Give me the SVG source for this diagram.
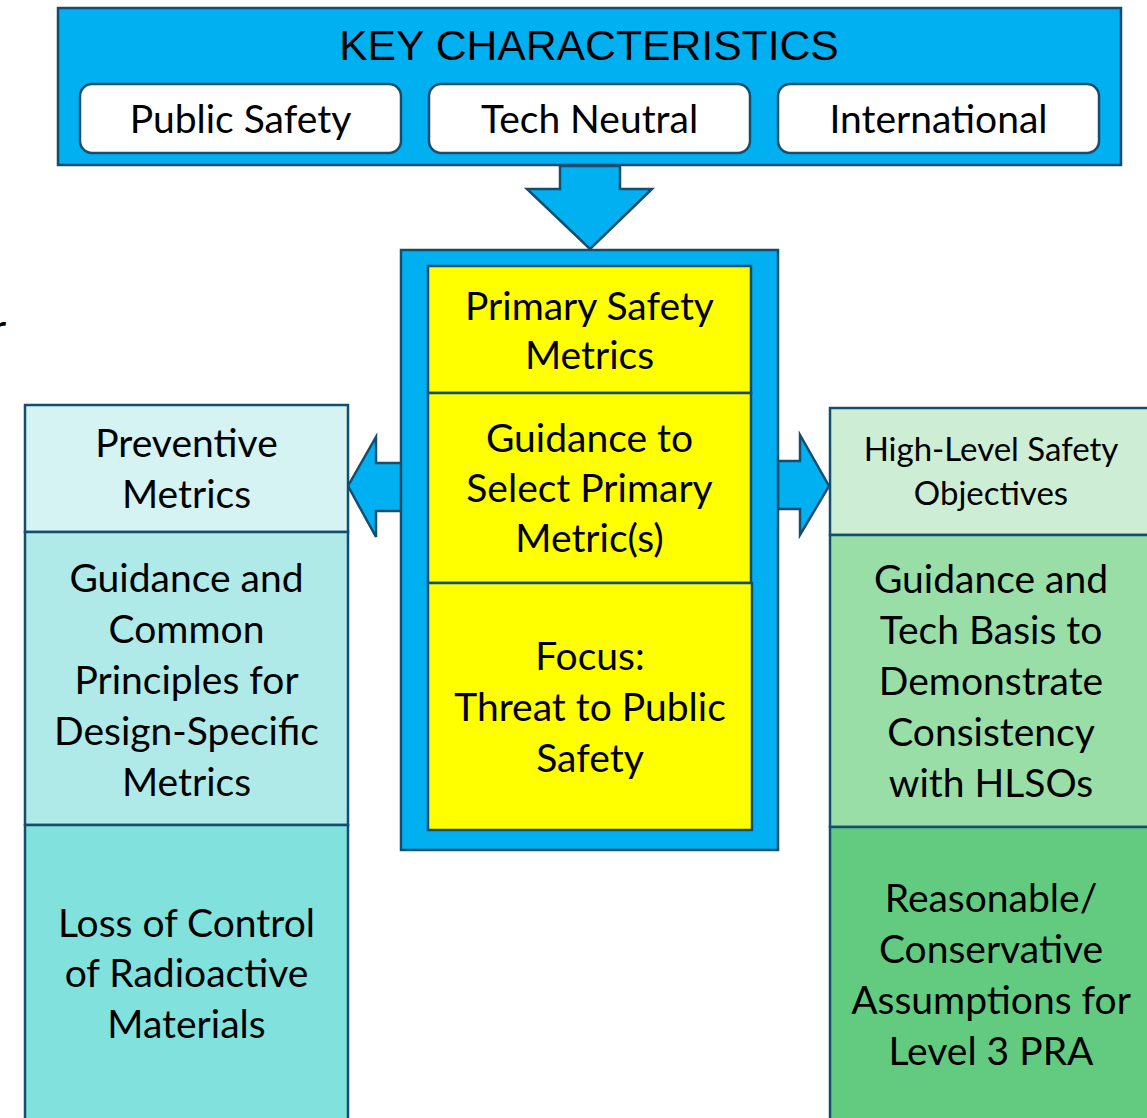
<svg xmlns="http://www.w3.org/2000/svg" width="1147" height="1118" viewBox="0 0 1147 1118">
<style>
.ln{stroke:#134E6F;stroke-width:2.5}
.t{font-family:Lato,"Open Sans","Noto Sans",sans-serif;font-size:39px;fill:#000;text-anchor:middle}
.s{font-size:33px}
.k{font-family:"Liberation Sans",Arial,sans-serif;font-size:42.7px;fill:#000;text-anchor:middle}
</style>
<rect width="1147" height="1118" fill="#fff"/>
<text class="t" x="-8" y="342" style="text-anchor:start">r</text>
<g id="key-characteristics">
<rect class="ln" x="58" y="8" width="1063" height="157" fill="#00B0F0"/>
<text class="k" x="589" y="60">KEY CHARACTERISTICS</text>
</g>
<g id="public-safety">
<rect class="ln" x="80" y="84" width="321" height="69" rx="12" fill="#fff"/>
<text class="t" x="240.5" y="133">Public Safety</text>
</g>
<g id="tech-neutral">
<rect class="ln" x="429" y="84" width="321" height="69" rx="12" fill="#fff"/>
<text class="t" x="589.5" y="133">Tech Neutral</text>
</g>
<g id="international">
<rect class="ln" x="778" y="84" width="321" height="69" rx="12" fill="#fff"/>
<text class="t" x="938.5" y="133">International</text>
</g>
<g id="connectors">
<polygon class="ln" fill="#00B0F0" points="560,166 620,166 620,189 652,189 590,249 527,189 560,189"/>
<polygon class="ln" fill="#00B0F0" points="402,463 376,463 376,437 348,486 376,537 376,511 402,511"/>
<polygon class="ln" fill="#00B0F0" points="778,461 800,461 800,435 829,486 800,535 800,509 778,509"/>
</g>
<g id="center-frame">
<rect class="ln" x="401" y="250" width="377" height="600" fill="#00B0F0"/>
</g>
<g id="primary-safety-metrics">
<rect class="ln" x="428" y="266" width="323" height="127" fill="#FFFF00"/>
<text class="t" x="589.5" y="320">Primary Safety</text>
<text class="t" x="589.5" y="369">Metrics</text>
</g>
<g id="guidance-select">
<rect class="ln" x="428" y="393" width="323" height="190" fill="#FFFF00"/>
<text class="t" x="589.5" y="452">Guidance to</text>
<text class="t" x="589.5" y="502">Select Primary</text>
<text class="t" x="589.5" y="552">Metric(s)</text>
</g>
<g id="focus">
<rect class="ln" x="428" y="583" width="324" height="247" fill="#FFFF00"/>
<text class="t" x="590" y="670">Focus:</text>
<text class="t" x="590" y="721">Threat to Public</text>
<text class="t" x="590" y="772">Safety</text>
</g>
<g id="preventive-metrics">
<rect class="ln" x="25" y="405" width="323" height="127" fill="#D4F3F2"/>
<text class="t" x="186.5" y="457">Preventive</text>
<text class="t" x="186.5" y="508">Metrics</text>
</g>
<g id="guidance-common">
<rect class="ln" x="25" y="532" width="323" height="293" fill="#AFEAE8"/>
<text class="t" x="186.5" y="592">Guidance and</text>
<text class="t" x="186.5" y="643">Common</text>
<text class="t" x="186.5" y="694">Principles for</text>
<text class="t" x="186.5" y="745">Design-Specific</text>
<text class="t" x="186.5" y="796">Metrics</text>
</g>
<g id="loss-of-control">
<rect class="ln" x="25" y="825" width="323" height="300" fill="#80E1DD"/>
<text class="t" x="186.5" y="937">Loss of Control</text>
<text class="t" x="186.5" y="987">of Radioactive</text>
<text class="t" x="186.5" y="1038">Materials</text>
</g>
<g id="hlso">
<rect class="ln" x="830" y="408" width="322" height="127" fill="#CDEDD4"/>
<text class="t s" x="991" y="461">High-Level Safety</text>
<text class="t s" x="991" y="505">Objectives</text>
</g>
<g id="guidance-tech-basis">
<rect class="ln" x="830" y="535" width="322" height="292" fill="#99DDA7"/>
<text class="t" x="991" y="593">Guidance and</text>
<text class="t" x="991" y="644">Tech Basis to</text>
<text class="t" x="991" y="695">Demonstrate</text>
<text class="t" x="991" y="746">Consistency</text>
<text class="t" x="991" y="797">with HLSOs</text>
</g>
<g id="reasonable-assumptions">
<rect class="ln" x="830" y="827" width="322" height="300" fill="#63CB80"/>
<text class="t" x="991" y="912">Reasonable/</text>
<text class="t" x="991" y="963">Conservative</text>
<text class="t" x="991" y="1014">Assumptions for</text>
<text class="t" x="991" y="1065">Level 3 PRA</text>
</g>
</svg>
